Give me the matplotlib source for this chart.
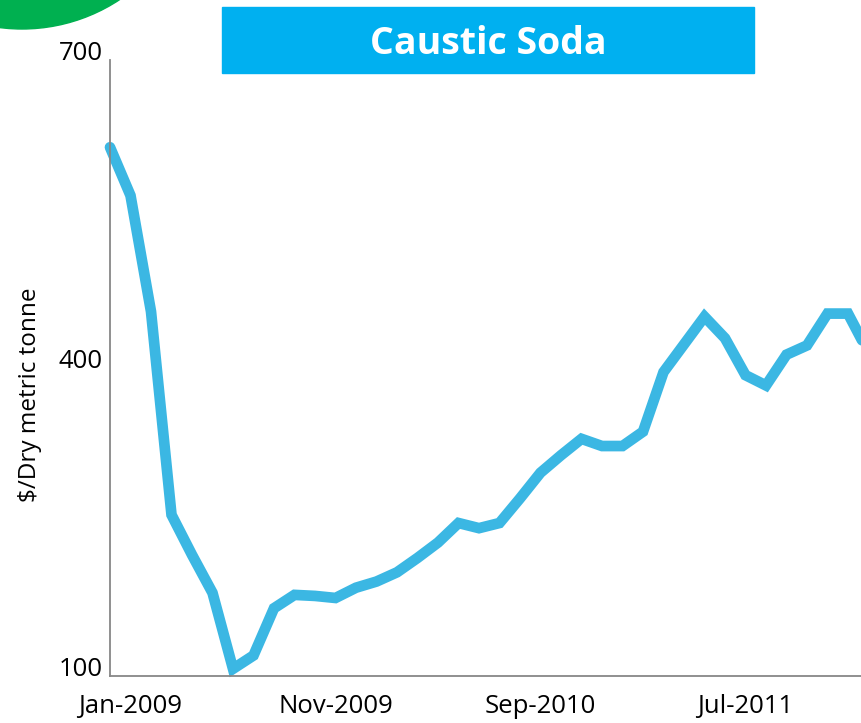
import matplotlib
matplotlib.use("Agg")
import matplotlib.pyplot as plt
from matplotlib.patches import Circle, Rectangle

# monthly caustic soda price, Dec-2008 onwards
months = ['Dec-2008', 'Jan-2009', 'Feb-2009', 'Mar-2009', 'Apr-2009', 'May-2009',
          'Jun-2009', 'Jul-2009', 'Aug-2009', 'Sep-2009', 'Oct-2009', 'Nov-2009',
          'Dec-2009', 'Jan-2010', 'Feb-2010', 'Mar-2010', 'Apr-2010', 'May-2010',
          'Jun-2010', 'Jul-2010', 'Aug-2010', 'Sep-2010', 'Oct-2010', 'Nov-2010',
          'Dec-2010', 'Jan-2011', 'Feb-2011', 'Mar-2011', 'Apr-2011', 'May-2011',
          'Jun-2011', 'Jul-2011', 'Aug-2011', 'Sep-2011', 'Oct-2011', 'Nov-2011',
          'Dec-2011', 'Jan-2012']
price = [615, 568, 455, 257, 218, 181, 107, 120, 166, 179, 178, 176,
         186, 192, 201, 215, 230, 249, 244, 249, 273, 298, 315, 331,
         324, 324, 338, 396, 423, 450, 429, 393, 383, 413, 422, 453,
         453, 415]
label_months = ['Jan-2009', 'Nov-2009', 'Sep-2010', 'Jul-2011']
y_ticks = [100, 400, 700]

W, H = 862, 723
fig = plt.figure(figsize=(W / 100, H / 100), dpi=100)
plt.rcParams['font.family'] = ['Open Sans', 'DejaVu Sans']

# green corner badge
fig.patches.append(Circle((0.22, (H + 148) / 100), 1.77, transform=fig.dpi_scale_trans,
                          color='#00B050', zorder=0))

ax = fig.add_axes([110 / W, 1 - 676 / H, 1 - 110 / W, (676 - 60) / H])
x = list(range(len(months)))
ax.plot(x, price, color='#3BB7E3', lw=7.7, solid_capstyle='round',
        solid_joinstyle='miter', clip_on=False)

ax.set_xlim(0, (W - 110) / 20.5)
ax.set_ylim(100, 700)
ax.set_xticks([months.index(m) for m in label_months])
ax.set_xticklabels(label_months)
ax.set_yticks(y_ticks)
ax.set_yticklabels([str(v) for v in y_ticks], va='baseline')
ax.tick_params(length=0, labelsize=18.5)
ax.tick_params(axis='x', pad=13)
ax.tick_params(axis='y', pad=5)

for s in ['top', 'right']:
    ax.spines[s].set_visible(False)
for s in ['left', 'bottom']:
    ax.spines[s].set_color('#878787')
    ax.spines[s].set_linewidth(1.3)

fig.text(30 / W, 1 - 395 / H, '$/Dry metric tonne', rotation=90,
         ha='center', va='center', fontsize=17.5)

# title banner
fig.patches.append(Rectangle((222 / W, 1 - 73 / H), (754 - 222) / W, 66 / H,
                             transform=fig.transFigure, color='#00B0F0'))
fig.text(488 / W, 1 - 54 / H, 'Caustic Soda', ha='center', va='baseline',
         color='white', fontsize=27, fontweight='bold')

fig.savefig('out.png', dpi=100)
